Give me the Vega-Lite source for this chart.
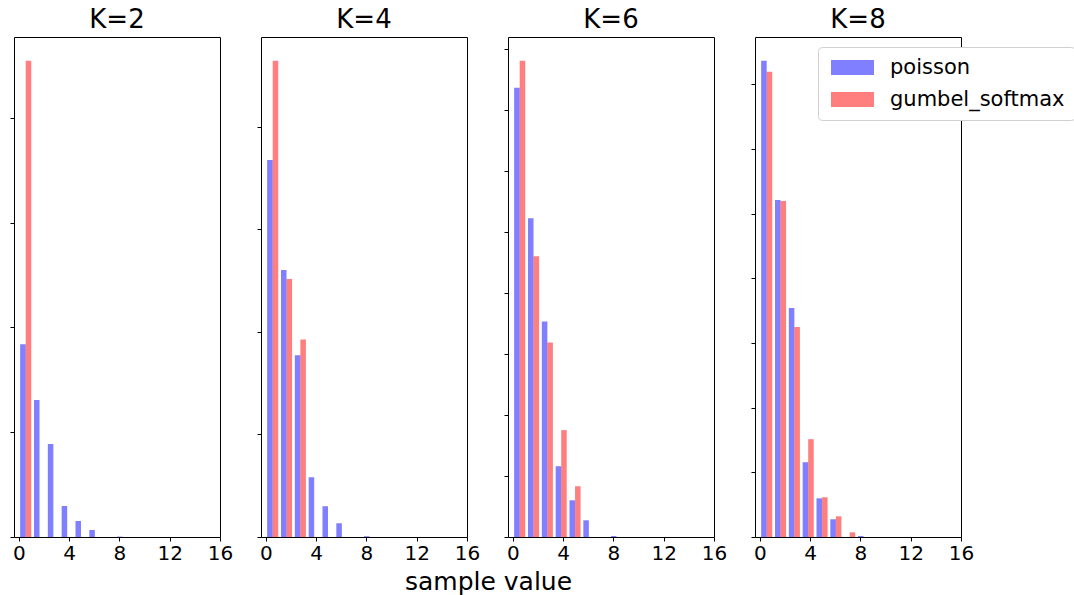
{
  "$schema": "https://vega.github.io/schema/vega-lite/v6.json",
  "padding": {"left": 9, "top": 6, "right": 5, "bottom": 5},
  "background": "white",
  "bounds": "flush",
  "datasets": {
    "h": [
      {"K": 2, "dist": "poisson", "bin_start": 0.0, "bin_end": 1.1, "density": 0.368},
      {"K": 2, "dist": "poisson", "bin_start": 1.1, "bin_end": 2.2, "density": 0.2617},
      {"K": 2, "dist": "poisson", "bin_start": 2.2, "bin_end": 3.3, "density": 0.1776},
      {"K": 2, "dist": "poisson", "bin_start": 3.3, "bin_end": 4.4, "density": 0.0592},
      {"K": 2, "dist": "poisson", "bin_start": 4.4, "bin_end": 5.5, "density": 0.0306},
      {"K": 2, "dist": "poisson", "bin_start": 5.5, "bin_end": 6.6, "density": 0.0134},
      {"K": 2, "dist": "poisson", "bin_start": 7.7, "bin_end": 8.8, "density": 0.0008},
      {"K": 2, "dist": "gumbel_softmax", "bin_start": 0.0, "bin_end": 1.1, "density": 0.9091},
      {"K": 4, "dist": "poisson", "bin_start": 0.0, "bin_end": 1.1, "density": 0.3679},
      {"K": 4, "dist": "poisson", "bin_start": 1.1, "bin_end": 2.2, "density": 0.2604},
      {"K": 4, "dist": "poisson", "bin_start": 2.2, "bin_end": 3.3, "density": 0.1774},
      {"K": 4, "dist": "poisson", "bin_start": 3.3, "bin_end": 4.4, "density": 0.0583},
      {"K": 4, "dist": "poisson", "bin_start": 4.4, "bin_end": 5.5, "density": 0.030},
      {"K": 4, "dist": "poisson", "bin_start": 5.5, "bin_end": 6.6, "density": 0.0134},
      {"K": 4, "dist": "poisson", "bin_start": 7.7, "bin_end": 8.8, "density": 0.0008},
      {"K": 4, "dist": "gumbel_softmax", "bin_start": 0.0, "bin_end": 1.1, "density": 0.4646},
      {"K": 4, "dist": "gumbel_softmax", "bin_start": 1.1, "bin_end": 2.2, "density": 0.2517},
      {"K": 4, "dist": "gumbel_softmax", "bin_start": 2.2, "bin_end": 3.3, "density": 0.1928},
      {"K": 6, "dist": "poisson", "bin_start": 0.0, "bin_end": 1.1, "density": 0.3682},
      {"K": 6, "dist": "poisson", "bin_start": 1.1, "bin_end": 2.2, "density": 0.2613},
      {"K": 6, "dist": "poisson", "bin_start": 2.2, "bin_end": 3.3, "density": 0.1767},
      {"K": 6, "dist": "poisson", "bin_start": 3.3, "bin_end": 4.4, "density": 0.058},
      {"K": 6, "dist": "poisson", "bin_start": 4.4, "bin_end": 5.5, "density": 0.0301},
      {"K": 6, "dist": "poisson", "bin_start": 5.5, "bin_end": 6.6, "density": 0.0137},
      {"K": 6, "dist": "poisson", "bin_start": 7.7, "bin_end": 8.8, "density": 0.0008},
      {"K": 6, "dist": "gumbel_softmax", "bin_start": 0.0, "bin_end": 1.1, "density": 0.3903},
      {"K": 6, "dist": "gumbel_softmax", "bin_start": 1.1, "bin_end": 2.2, "density": 0.2301},
      {"K": 6, "dist": "gumbel_softmax", "bin_start": 2.2, "bin_end": 3.3, "density": 0.1595},
      {"K": 6, "dist": "gumbel_softmax", "bin_start": 3.3, "bin_end": 4.4, "density": 0.0876},
      {"K": 6, "dist": "gumbel_softmax", "bin_start": 4.4, "bin_end": 5.5, "density": 0.0416},
      {"K": 8, "dist": "poisson", "bin_start": 0.0, "bin_end": 1.1, "density": 0.368},
      {"K": 8, "dist": "poisson", "bin_start": 1.1, "bin_end": 2.2, "density": 0.2605},
      {"K": 8, "dist": "poisson", "bin_start": 2.2, "bin_end": 3.3, "density": 0.1769},
      {"K": 8, "dist": "poisson", "bin_start": 3.3, "bin_end": 4.4, "density": 0.0578},
      {"K": 8, "dist": "poisson", "bin_start": 4.4, "bin_end": 5.5, "density": 0.0299},
      {"K": 8, "dist": "poisson", "bin_start": 5.5, "bin_end": 6.6, "density": 0.0137},
      {"K": 8, "dist": "poisson", "bin_start": 7.7, "bin_end": 8.8, "density": 0.0008},
      {"K": 8, "dist": "gumbel_softmax", "bin_start": 0.0, "bin_end": 1.1, "density": 0.3595},
      {"K": 8, "dist": "gumbel_softmax", "bin_start": 1.1, "bin_end": 2.2, "density": 0.2597},
      {"K": 8, "dist": "gumbel_softmax", "bin_start": 2.2, "bin_end": 3.3, "density": 0.1622},
      {"K": 8, "dist": "gumbel_softmax", "bin_start": 3.3, "bin_end": 4.4, "density": 0.0756},
      {"K": 8, "dist": "gumbel_softmax", "bin_start": 4.4, "bin_end": 5.5, "density": 0.0307},
      {"K": 8, "dist": "gumbel_softmax", "bin_start": 5.5, "bin_end": 6.6, "density": 0.016},
      {"K": 8, "dist": "gumbel_softmax", "bin_start": 6.6, "bin_end": 7.7, "density": 0.0036}
    ]
  },
  "spacing": 41,
  "hconcat": [
    {
      "width": 206, "height": 500,
      "title": {"text": "K=2", "fontSize": 26, "font": "DejaVu Sans", "fontWeight": "normal", "color": "black", "offset": 4, "anchor": "middle"},
      "data": {"name": "h"},
      "transform": [{"filter": "datum.K == 2"}],
      "encoding": {
        "x": {"field": "bin_start", "type": "quantitative", "scale": {"domain": [-0.38, 16], "nice": false, "zero": false}, "axis": {"values": [0, 4, 8, 12, 16], "title": null}},
        "x2": {"field": "bin_end"},
        "y": {"field": "density", "type": "quantitative", "scale": {"domain": [0, 0.9546], "nice": false}, "axis": {"values": [0, 0.2, 0.4, 0.6, 0.8], "labels": false, "title": null}},
        "y2": {"datum": 0},
        "color": {"field": "dist", "type": "nominal", "scale": {"domain": ["poisson", "gumbel_softmax"], "range": ["#0000ff", "#ff0000"]}, "legend": {"orient": "none", "legendX": 804, "legendY": 10, "title": null}}
      },
      "layer": [
        {"transform": [{"filter": "datum.dist == 'poisson'"}], "mark": {"type": "bar", "fillOpacity": 0.5, "xOffset": 1.38, "x2Offset": -6.92}},
        {"transform": [{"filter": "datum.dist == 'gumbel_softmax'"}], "mark": {"type": "bar", "fillOpacity": 0.5, "xOffset": 6.92, "x2Offset": -1.38}}
      ]
    },
    {
      "width": 206, "height": 500,
      "title": {"text": "K=4", "fontSize": 26, "font": "DejaVu Sans", "fontWeight": "normal", "color": "black", "offset": 4, "anchor": "middle"},
      "data": {"name": "h"},
      "transform": [{"filter": "datum.K == 4"}],
      "encoding": {
        "x": {"field": "bin_start", "type": "quantitative", "scale": {"domain": [-0.38, 16], "nice": false, "zero": false}, "axis": {"values": [0, 4, 8, 12, 16], "title": "sample value", "titleX": 227, "titleY": 52, "titleAlign": "center", "titleBaseline": "alphabetic", "titleFont": "DejaVu Sans", "titleFontSize": 25, "titleFontWeight": "normal", "titleColor": "black"}},
        "x2": {"field": "bin_end"},
        "y": {"field": "density", "type": "quantitative", "scale": {"domain": [0, 0.4878], "nice": false}, "axis": {"values": [0, 0.1, 0.2, 0.3, 0.4], "labels": false, "title": null}},
        "y2": {"datum": 0},
        "color": {"field": "dist", "type": "nominal", "scale": {"domain": ["poisson", "gumbel_softmax"], "range": ["#0000ff", "#ff0000"]}, "legend": {"orient": "none", "legendX": 804, "legendY": 10, "title": null}}
      },
      "layer": [
        {"transform": [{"filter": "datum.dist == 'poisson'"}], "mark": {"type": "bar", "fillOpacity": 0.5, "xOffset": 1.38, "x2Offset": -6.92}},
        {"transform": [{"filter": "datum.dist == 'gumbel_softmax'"}], "mark": {"type": "bar", "fillOpacity": 0.5, "xOffset": 6.92, "x2Offset": -1.38}}
      ]
    },
    {
      "width": 206, "height": 500,
      "title": {"text": "K=6", "fontSize": 26, "font": "DejaVu Sans", "fontWeight": "normal", "color": "black", "offset": 4, "anchor": "middle"},
      "data": {"name": "h"},
      "transform": [{"filter": "datum.K == 6"}],
      "encoding": {
        "x": {"field": "bin_start", "type": "quantitative", "scale": {"domain": [-0.38, 16], "nice": false, "zero": false}, "axis": {"values": [0, 4, 8, 12, 16], "title": null}},
        "x2": {"field": "bin_end"},
        "y": {"field": "density", "type": "quantitative", "scale": {"domain": [0, 0.4098], "nice": false}, "axis": {"values": [0, 0.05, 0.1, 0.15, 0.2, 0.25, 0.3, 0.35, 0.4], "labels": false, "title": null}},
        "y2": {"datum": 0},
        "color": {"field": "dist", "type": "nominal", "scale": {"domain": ["poisson", "gumbel_softmax"], "range": ["#0000ff", "#ff0000"]}, "legend": {"orient": "none", "legendX": 804, "legendY": 10, "title": null}}
      },
      "layer": [
        {"transform": [{"filter": "datum.dist == 'poisson'"}], "mark": {"type": "bar", "fillOpacity": 0.5, "xOffset": 1.38, "x2Offset": -6.92}},
        {"transform": [{"filter": "datum.dist == 'gumbel_softmax'"}], "mark": {"type": "bar", "fillOpacity": 0.5, "xOffset": 6.92, "x2Offset": -1.38}}
      ]
    },
    {
      "width": 206, "height": 500,
      "title": {"text": "K=8", "fontSize": 26, "font": "DejaVu Sans", "fontWeight": "normal", "color": "black", "offset": 4, "anchor": "middle"},
      "data": {"name": "h"},
      "transform": [{"filter": "datum.K == 8"}],
      "encoding": {
        "x": {"field": "bin_start", "type": "quantitative", "scale": {"domain": [-0.38, 16], "nice": false, "zero": false}, "axis": {"values": [0, 4, 8, 12, 16], "title": null}},
        "x2": {"field": "bin_end"},
        "y": {"field": "density", "type": "quantitative", "scale": {"domain": [0, 0.3864], "nice": false}, "axis": {"values": [0, 0.05, 0.1, 0.15, 0.2, 0.25, 0.3, 0.35], "labels": false, "title": null}},
        "y2": {"datum": 0},
        "color": {"field": "dist", "type": "nominal", "scale": {"domain": ["poisson", "gumbel_softmax"], "range": ["#0000ff", "#ff0000"]}, "legend": {"orient": "none", "legendX": 804, "legendY": 10, "title": null}}
      },
      "layer": [
        {"transform": [{"filter": "datum.dist == 'poisson'"}], "mark": {"type": "bar", "fillOpacity": 0.5, "xOffset": 1.38, "x2Offset": -6.92}},
        {"transform": [{"filter": "datum.dist == 'gumbel_softmax'"}], "mark": {"type": "bar", "fillOpacity": 0.5, "xOffset": 6.92, "x2Offset": -1.38}}
      ]
    }
  ],
  "config": {
    "font": "DejaVu Sans",
    "view": {"stroke": "black", "strokeWidth": 1},
    "axis": {"domain": false, "grid": false, "ticks": true, "tickColor": "black", "tickSize": 4, "tickWidth": 1, "labelFont": "DejaVu Sans", "labelFontSize": 20, "labelColor": "black", "labelPadding": 2, "labelFlush": false},
    "legend": {
      "labelFont": "DejaVu Sans", "labelFontSize": 21, "labelColor": "black", "labelLimit": 400,
      "symbolType": "M-1,-1L4.733,-1L4.733,1L-1,1Z", "symbolSize": 225, "symbolOpacity": 0.5, "symbolStrokeWidth": 0,
      "strokeColor": "#d0d0d0", "cornerRadius": 4, "padding": 10, "rowPadding": 10, "labelOffset": 41, "fillColor": "white"
    }
  }
}
